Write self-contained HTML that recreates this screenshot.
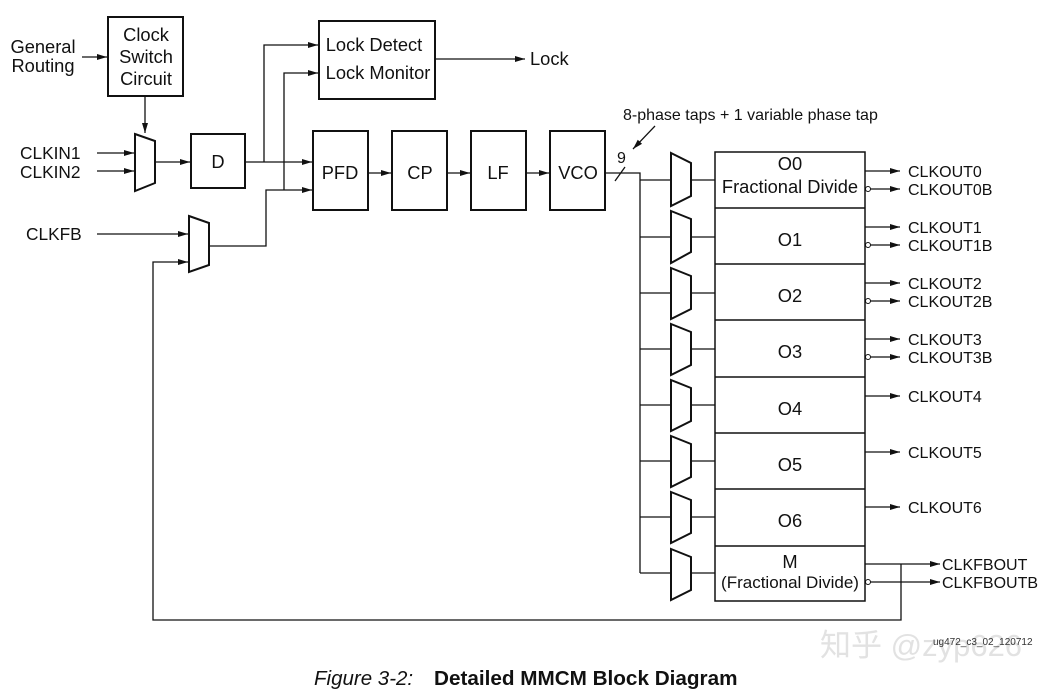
<!DOCTYPE html>
<html><head><meta charset="utf-8"><style>
body{margin:0;background:#fff;}
svg{display:block;font-family:"Liberation Sans",Arial,sans-serif;}
</style></head><body>
<svg width="1057" height="691" viewBox="0 0 1057 691" xmlns="http://www.w3.org/2000/svg">
<defs>
<marker id="a" markerWidth="10" markerHeight="6" refX="10" refY="3" orient="auto" markerUnits="userSpaceOnUse"><path d="M0,0 L10,3 L0,6 z" fill="#111"/></marker>
</defs>
<g fill="none" stroke="#111" stroke-width="1.3">
<rect x="108" y="17" width="75" height="79" stroke-width="2"/>
<rect x="319" y="21" width="116" height="78" stroke-width="2"/>
<rect x="191" y="134" width="54" height="54" stroke-width="2"/>
<rect x="313" y="131" width="55" height="79" stroke-width="2"/>
<rect x="392" y="131" width="55" height="79" stroke-width="2"/>
<rect x="471" y="131" width="55" height="79" stroke-width="2"/>
<rect x="550" y="131" width="55" height="79" stroke-width="2"/>
<rect x="715" y="152" width="150" height="449" stroke-width="1.5"/>
<path d="M715 208H865M715 264H865M715 320H865M715 377H865M715 433H865M715 489H865M715 546H865" stroke-width="1.5"/>
<path d="M135 134 L155 141 L155 183 L135 191 Z" stroke-width="2"/>
<path d="M189 216 L209 223 L209 265 L189 272 Z" stroke-width="2"/>
<g stroke-width="2">
<path d="M671 153 L691 163 L691 196 L671 206 Z"/>
<path d="M671 211 L691 219 L691 252 L671 263 Z"/>
<path d="M671 268 L691 276 L691 309 L671 319 Z"/>
<path d="M671 324 L691 332 L691 365 L671 375 Z"/>
<path d="M671 380 L691 388 L691 421 L671 431 Z"/>
<path d="M671 436 L691 444 L691 477 L671 487 Z"/>
<path d="M671 492 L691 500 L691 533 L671 543 Z"/>
<path d="M671 549 L691 557 L691 590 L671 600 Z"/>
</g>
<path d="M82 57H107" marker-end="url(#a)"/>
<path d="M145 96V133" marker-end="url(#a)"/>
<path d="M97 153H134" marker-end="url(#a)"/>
<path d="M97 171H134" marker-end="url(#a)"/>
<path d="M155 162H190" marker-end="url(#a)"/>
<path d="M245 162H312" marker-end="url(#a)"/>
<path d="M264 162V45H318" marker-end="url(#a)"/>
<path d="M284 190V73H318" marker-end="url(#a)"/>
<path d="M209 246H266V190H312" marker-end="url(#a)"/>
<path d="M97 234H188" marker-end="url(#a)"/>
<path d="M435 59H525" marker-end="url(#a)"/>
<path d="M368 173H391" marker-end="url(#a)"/>
<path d="M447 173H470" marker-end="url(#a)"/>
<path d="M526 173H549" marker-end="url(#a)"/>
<path d="M605 173H640V573"/>
<path d="M615 181L625 167"/>
<path d="M655 126L633 149" marker-end="url(#a)"/>
<path d="M640 180H671M640 237H671M640 293H671M640 349H671M640 405H671M640 461H671M640 517H671M640 573H671"/>
<path d="M691 180H715M691 237H715M691 293H715M691 349H715M691 405H715M691 461H715M691 517H715M691 573H715"/>
<path d="M865 171H900" marker-end="url(#a)"/>
<path d="M870 189H900" marker-end="url(#a)"/>
<path d="M865 227H900" marker-end="url(#a)"/>
<path d="M870 245H900" marker-end="url(#a)"/>
<path d="M865 283H900" marker-end="url(#a)"/>
<path d="M870 301H900" marker-end="url(#a)"/>
<path d="M865 339H900" marker-end="url(#a)"/>
<path d="M870 357H900" marker-end="url(#a)"/>
<path d="M865 396H900" marker-end="url(#a)"/>
<path d="M865 452H900" marker-end="url(#a)"/>
<path d="M865 507H900" marker-end="url(#a)"/>
<path d="M865 564H940" marker-end="url(#a)"/>
<path d="M870 582H940" marker-end="url(#a)"/>
<path d="M901 564V620H153V262H188" marker-end="url(#a)"/>
</g>
<g fill="#fff" stroke="#111" stroke-width="1">
<circle cx="868" cy="189" r="2.5"/><circle cx="868" cy="245" r="2.5"/><circle cx="868" cy="301" r="2.5"/><circle cx="868" cy="357" r="2.5"/><circle cx="868" cy="582" r="2.5"/>
</g>
<g font-size="18.3" fill="#111" text-anchor="middle">
<text x="43" y="53">General</text><text x="43" y="72">Routing</text>
<text x="146" y="41">Clock</text><text x="146" y="63">Switch</text><text x="146" y="85">Circuit</text>
<text x="374" y="51">Lock Detect</text><text x="378" y="79">Lock Monitor</text>
<text x="218" y="168">D</text>
<text x="340" y="179">PFD</text><text x="420" y="179">CP</text><text x="498" y="179">LF</text><text x="578" y="179">VCO</text>
<text x="790" y="170">O0</text><text x="790" y="193">Fractional Divide</text>
<text x="790" y="246">O1</text><text x="790" y="302">O2</text><text x="790" y="358">O3</text><text x="790" y="415">O4</text><text x="790" y="471">O5</text><text x="790" y="527">O6</text>
<text x="790" y="568">M</text><text x="790" y="588" font-size="17">(Fractional Divide)</text>
</g>
<g font-size="17.3" fill="#111">
<text x="20" y="159">CLKIN1</text><text x="20" y="178">CLKIN2</text>
<text x="26" y="240">CLKFB</text>
<text x="530" y="65" font-size="18.3">Lock</text>
<text x="617" y="163" font-size="16">9</text>
<text x="623" y="120" font-size="16">8-phase taps + 1 variable phase tap</text>
<text x="908" y="177" font-size="16">CLKOUT0</text><text x="908" y="195" font-size="16">CLKOUT0B</text>
<text x="908" y="233" font-size="16">CLKOUT1</text><text x="908" y="251" font-size="16">CLKOUT1B</text>
<text x="908" y="289" font-size="16">CLKOUT2</text><text x="908" y="307" font-size="16">CLKOUT2B</text>
<text x="908" y="345" font-size="16">CLKOUT3</text><text x="908" y="363" font-size="16">CLKOUT3B</text>
<text x="908" y="402" font-size="16">CLKOUT4</text><text x="908" y="458" font-size="16">CLKOUT5</text><text x="908" y="513" font-size="16">CLKOUT6</text>
<text x="942" y="570" font-size="16">CLKFBOUT</text><text x="942" y="588" font-size="16">CLKFBOUTB</text>
</g>
<text x="820" y="656" font-size="31" fill="#e2e2e2" font-family="'Liberation Sans','Noto Sans CJK SC',sans-serif">知乎 @zyp626</text>
<text x="933" y="645" font-size="10" fill="#333">ug472_c3_02_120712</text>
<text x="314" y="685" font-size="20.5" font-style="italic" fill="#111">Figure 3-2:</text>
<text x="434" y="685" font-size="20.7" font-weight="bold" fill="#111">Detailed MMCM Block Diagram</text>
</svg>
</body></html>
